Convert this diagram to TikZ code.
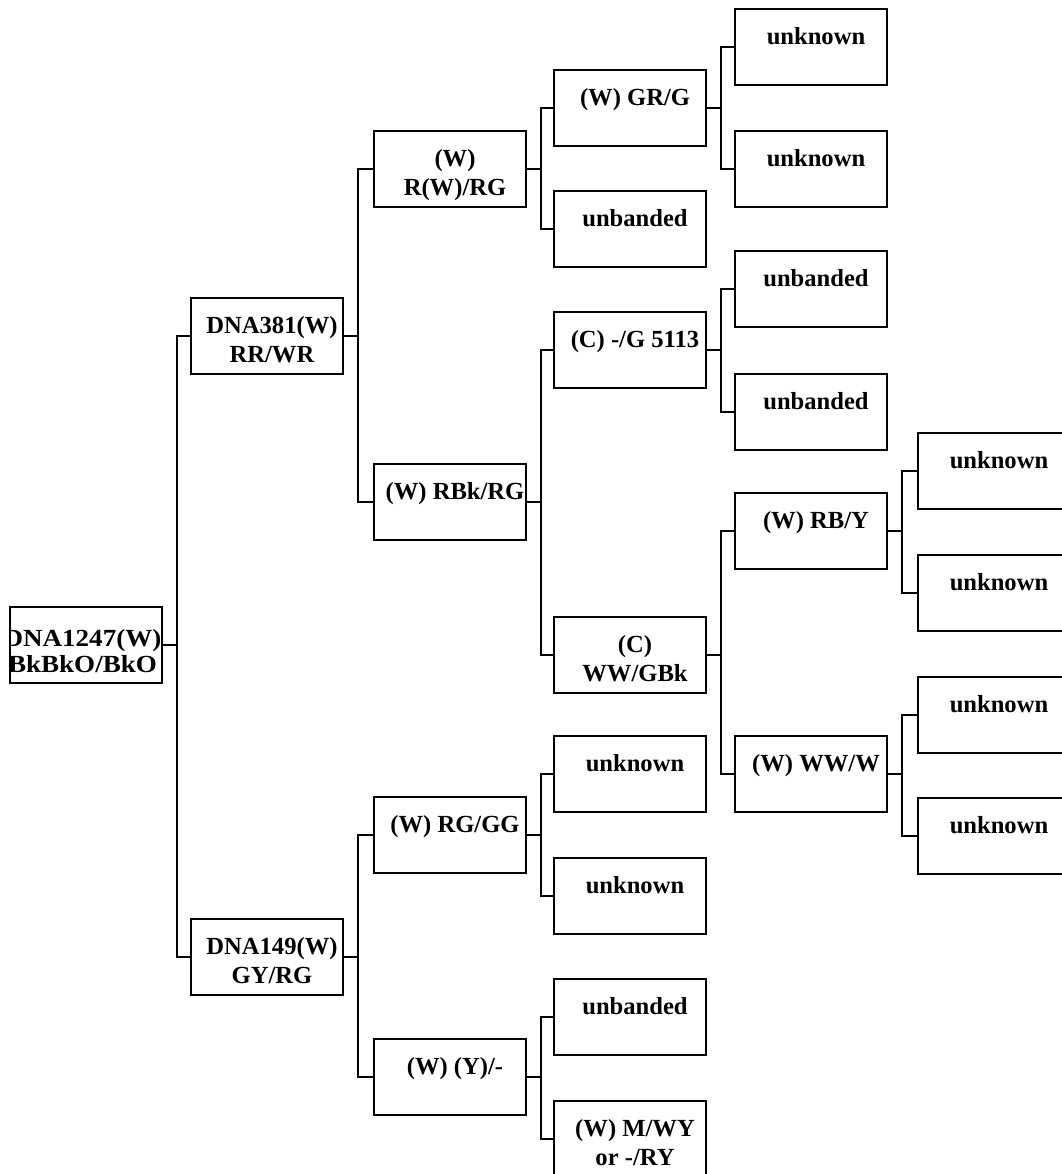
\documentclass[tikz,border=0pt]{standalone}
\usepackage{fontspec}
\setmainfont{Liberation Serif}
\usepackage{graphicx}
\usetikzlibrary{positioning}
\newcommand{\boxtxt}[1]{\parbox[c][1.52cm][t]{3.04cm}{\centering\leftskip=0.2cm plus 1fil\rule{0pt}{20pt}#1}}
\newcommand{\wide}[1]{\scalebox{1.1}[1]{#1}}

\begin{document}
\begin{tikzpicture}[x=0.02cm,y=-0.02cm,
  cell/.style={draw,line width=1pt,inner sep=0pt,minimum width=3.04cm,minimum height=1.52cm,
    font=\bfseries\fontsize{14}{16.5}\selectfont},
  link/.style={line width=1pt}]
\useasboundingbox (0,0) rectangle (1062,1174);
\clip (0,0) rectangle (1062,1174);
% root (its text runs over the box and is cut off)
\node[cell,path picture={
  \node[anchor=north,align=center,inner sep=0pt,font=\bfseries\fontsize{14}{15}\selectfont] (rootlbl)
    at ([xshift=-2pt,yshift=-0.11cm]path picture bounding box.north) {\wide{DNA1247(W)}\\\wide{BkBkO/BkO}};}]
  (root) at (86,645) {};
% first split
\node[cell] (d381) at (267,336) {\boxtxt{DNA381(W)\\RR/WR}};
\node[cell] (d149) at (267,957) {\boxtxt{DNA149(W)\\GY/RG}};
% second split
\node[cell] (rwrg) at (450,169) {\boxtxt{(W)\\R(W)/RG}};
\node[cell] (rbkrg) at (450,502) {\boxtxt{(W) RBk/RG}};
\node[cell] (rggg) at (450,835) {\boxtxt{(W) RG/GG}};
\node[cell] (wy) at (450,1077) {\boxtxt{(W) (Y)/-}};
% third split
\node[cell] (grg) at (630,108) {\boxtxt{(W) GR/G}};
\node[cell] (unbA) at (630,229) {\boxtxt{unbanded}};
\node[cell] (g5113) at (630,350) {\boxtxt{(C) -/G 5113}};
\node[cell] (wwgbk) at (630,655) {\boxtxt{(C)\\WW/GBk}};
\node[cell] (unkA) at (630,774) {\boxtxt{unknown}};
\node[cell] (unkB) at (630,896) {\boxtxt{unknown}};
\node[cell] (unbB) at (630,1017) {\boxtxt{unbanded}};
\node[cell] (mwy) at (630,1139) {\boxtxt{(W) M/WY\\or -/RY}};
% fourth split
\node[cell] (unkC) at (811,47) {\boxtxt{unknown}};
\node[cell] (unkD) at (811,169) {\boxtxt{unknown}};
\node[cell] (unbC) at (811,289) {\boxtxt{unbanded}};
\node[cell] (unbD) at (811,412) {\boxtxt{unbanded}};
\node[cell] (rby) at (811,531) {\boxtxt{(W) RB/Y}};
\node[cell] (www) at (811,774) {\boxtxt{(W) WW/W}};
% fifth split
\node[cell] (unkE) at (994,471) {\boxtxt{unknown}};
\node[cell] (unkF) at (994,593) {\boxtxt{unknown}};
\node[cell] (unkG) at (994,715) {\boxtxt{unknown}};
\node[cell] (unkH) at (994,836) {\boxtxt{unknown}};
% elbow connectors
\foreach \p/\c in {root/d381,root/d149,d381/rwrg,d381/rbkrg,d149/rggg,d149/wy,
  rwrg/grg,rwrg/unbA,rbkrg/g5113,rbkrg/wwgbk,rggg/unkA,rggg/unkB,wy/unbB,wy/mwy,
  grg/unkC,grg/unkD,g5113/unbC,g5113/unbD,wwgbk/rby,wwgbk/www,
  rby/unkE,rby/unkF,www/unkG,www/unkH}
  \draw[link] (\p.east) -- ++(14,0) |- (\c.west);
\end{tikzpicture}
\end{document}
